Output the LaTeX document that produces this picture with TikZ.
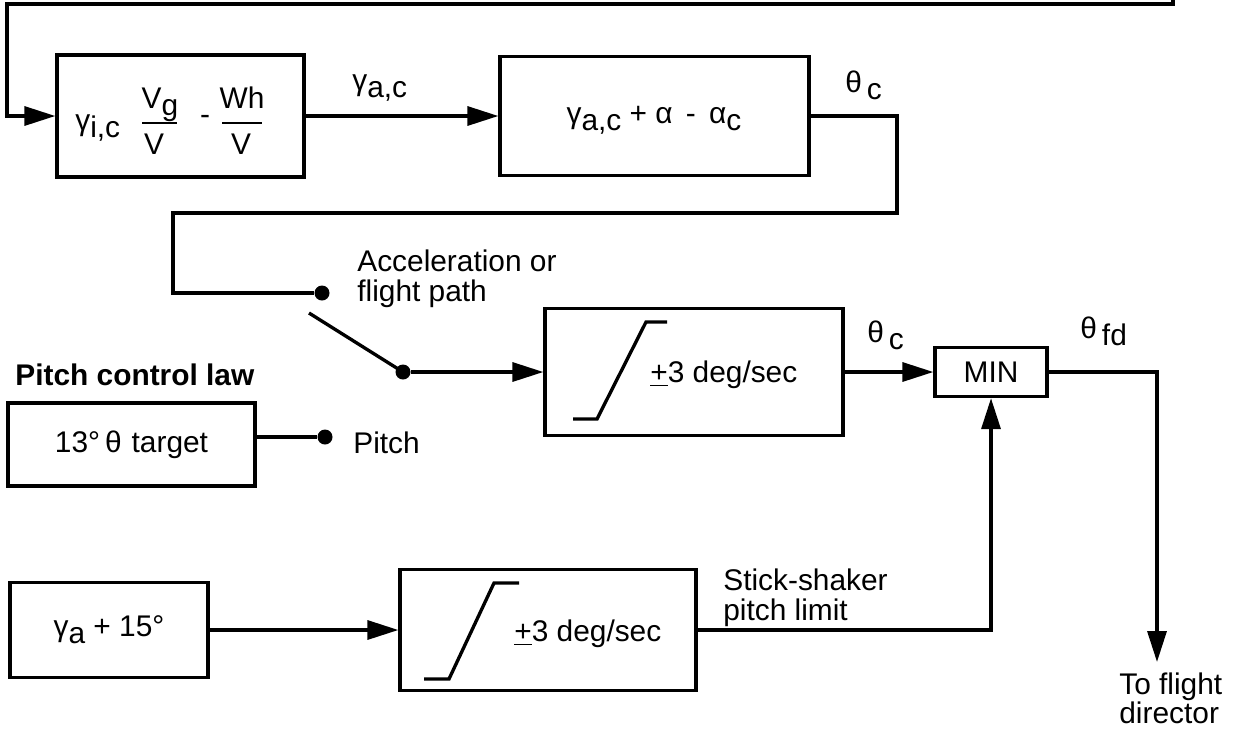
\documentclass[tikz,border=0pt]{standalone}
\usepackage{fontspec}
\setmainfont{Liberation Sans}
\usetikzlibrary{arrows.meta}
\newcommand{\lo}[1]{\raisebox{-0.14cm}{#1}}
\begin{document}
\begin{tikzpicture}[x=0.02cm,y=-0.02cm,
  every node/.style={font=\fontsize{17}{17}\selectfont, inner sep=0pt},
  blk/.style={draw, line width=1.9pt, inner sep=0pt},
  ln/.style={line width=1.9pt},
  arr/.style={line width=1.9pt, -{Triangle[length=0.62cm,width=0.38cm]}},
  dot/.style={circle, fill, minimum size=0.3cm, inner sep=0pt},
  lbl/.style={anchor=base west}]
\useasboundingbox (0,0) rectangle (1240,728);

% blocks
\node[blk, minimum width=4.94cm, minimum height=2.44cm] (b1) at (180.5,116) {};
\node[blk, minimum width=6.18cm, minimum height=2.38cm] (b2) at (654.5,116) {};
\node[blk, minimum width=5.96cm, minimum height=2.54cm] (b3) at (694,372) {};
\node[blk, minimum width=2.24cm, minimum height=0.98cm] (min) at (991,372) {MIN};
\node[blk, minimum width=4.94cm, minimum height=1.66cm] (t13) at (131.5,444.5) {13°\,θ\,\,target};
\node[blk, minimum width=3.96cm, minimum height=1.9cm] (b5) at (109,630) {γ\lo{a} + 15°};
\node[blk, minimum width=5.92cm, minimum height=2.42cm] (b4) at (548,630) {};

% box 1 formula
\node[lbl] at (75,130) {γ\lo{i,c}};
\node[anchor=base] at (160,108) {V\lo{g}};
\draw[line width=1.6pt] (142,123) -- (177,123);
\node[anchor=base] at (154,154) {V};
\node[anchor=base] at (205,124) {-};
\node[anchor=base] at (242,108) {Wh};
\draw[line width=1.6pt] (222,123) -- (262,123);
\node[anchor=base] at (241,154) {V};

% box 2 formula
\node[anchor=base] at (654,123) {γ\lo{a,c} + α \,-\, α\lo{c}};

% ramps
\draw[ln] (573,419) -- (597,419) -- (646,322) -- (667,322);
\node[anchor=west] at (650,375) {\underline{+}3 deg/sec};
\draw[ln] (424,679) -- (449,679) -- (494,583) -- (519,583);
\node[anchor=west] at (514,634) {\underline{+}3 deg/sec};

% dots / switch
\node[dot] (d1) at (322,293) {};
\node[dot] (d2) at (403,372) {};
\node[dot] (d3) at (325,437) {};
\coordinate (sw) at (309,313);
\coordinate (tr) at (1173,0);
\coordinate (fd) at (1157,662);

% connectors
\draw[arr] (tr) |- (7,4) |- (b1.west);
\draw[arr] (b1.east) -- (b2.west);
\draw[ln] (b2.east) -| (897,213) -| (173,293) -- (d1);
\draw[ln] (sw) -- (d2.center);
\draw[arr] (d2) -- (b3.west);
\draw[arr] (b3.east) -- (min.west);
\draw[arr] (min.east) -| (fd);
\draw[ln] (t13.east |- d3) -- (d3);
\draw[arr] (b5.east) -- (b4.west);
\draw[arr] (b4.east) -| (min.south);

% labels
\node[lbl] at (352,90) {γ\lo{a,c}};
\node[lbl] at (845,92) {θ\,\lo{c}};
\node[lbl] at (867,342) {θ\,\lo{c}};
\node[lbl] at (1080,338) {θ\,\lo{fd}};
\node[anchor=west, align=left] at (357,279) {Acceleration or\\flight path};
\node[lbl] at (15,385) {\bfseries Pitch control law};
\node[lbl] at (353,453) {Pitch};
\node[anchor=west, align=left] at (723,598) {Stick-shaker\\pitch limit};
\node[anchor=north west, align=left] at (1119,672) {To flight\\director};
\end{tikzpicture}
\end{document}
